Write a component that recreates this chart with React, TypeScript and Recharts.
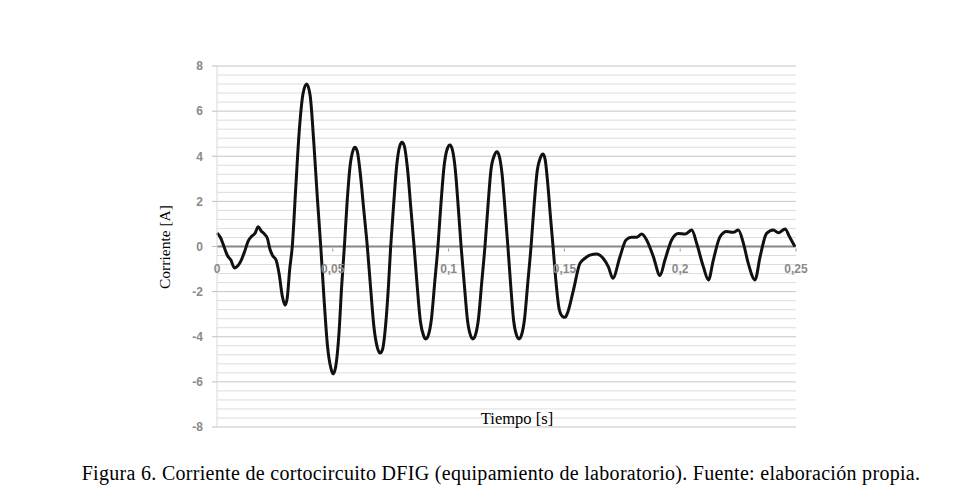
import { LineChart, Line, XAxis, YAxis, ReferenceLine } from 'recharts'

// tiempo [s] y corriente [A]
const TIME = [
  0.0, 0.0015, 0.003, 0.0045, 0.006, 0.0075, 0.009, 0.0105, 0.012, 0.0135,
  0.015, 0.0165, 0.0178, 0.019, 0.0205, 0.0218, 0.0228, 0.024, 0.0255, 0.0268,
  0.0282, 0.0294, 0.0303, 0.0314, 0.0325, 0.034, 0.0355, 0.0372, 0.0387, 0.0402,
  0.0418, 0.0433, 0.0448, 0.0462, 0.0477, 0.0492, 0.0502, 0.0513, 0.0527, 0.0538,
  0.055, 0.0562, 0.0575, 0.0587, 0.0596, 0.0606, 0.0618, 0.0634, 0.0649, 0.0663,
  0.0678, 0.0693, 0.0704, 0.0715, 0.0728, 0.074, 0.075, 0.0763, 0.0776, 0.0789,
  0.0799, 0.0809, 0.0822, 0.0837, 0.0851, 0.0864, 0.0878, 0.0892, 0.0902, 0.0912,
  0.0926, 0.094, 0.0954, 0.0967, 0.0981, 0.0995, 0.1006, 0.1016, 0.1029, 0.1042,
  0.1054, 0.1068, 0.1082, 0.1095, 0.1105, 0.1115, 0.1129, 0.1143, 0.1157, 0.117,
  0.1183, 0.1198, 0.1209, 0.1219, 0.1231, 0.1244, 0.1256, 0.1268, 0.1281, 0.1294,
  0.1304, 0.1314, 0.1328, 0.1342, 0.1356, 0.1369, 0.1382, 0.1397, 0.1408, 0.1417,
  0.1428, 0.144, 0.1451, 0.1463, 0.1478, 0.1492, 0.1503, 0.1515, 0.1539, 0.1567,
  0.1589, 0.161, 0.164, 0.1667, 0.169, 0.1709, 0.174, 0.1766, 0.179, 0.1812,
  0.1834, 0.1855, 0.1884, 0.1913, 0.1934, 0.1963, 0.1992, 0.2021, 0.205, 0.2071,
  0.21, 0.2122, 0.2143, 0.2172, 0.2201, 0.2229, 0.2251, 0.2273, 0.2294, 0.2323,
  0.2345, 0.2373, 0.2402, 0.2424, 0.2453, 0.2472, 0.2495,
]

const CURRENT = [
  0.6, 0.4, 0.0, -0.4, -0.6, -0.95, -0.85, -0.6, -0.2, 0.25,
  0.45, 0.6, 0.88, 0.7, 0.55, 0.35, -0.1, -0.4, -0.6, -1.2,
  -2.2, -2.6, -2.3, -1.0, 0.0, 2.6, 5.1, 6.8, 7.2, 6.7,
  4.6, 2.2, 0.0, -2.3, -4.4, -5.4, -5.65, -5.3, -3.8, -1.8,
  0.0, 2.0, 3.6, 4.25, 4.4, 4.2, 3.3, 1.6, 0.0, -1.8,
  -3.6, -4.5, -4.72, -4.55, -3.5, -1.8, 0.0, 1.9, 3.6, 4.45,
  4.62, 4.45, 3.5, 1.7, 0.0, -1.7, -3.3, -3.95, -4.1, -3.95,
  -3.2, -1.6, 0.0, 1.9, 3.6, 4.35, 4.5, 4.3, 3.4, 1.7,
  0.0, -1.7, -3.3, -3.95, -4.1, -3.95, -3.2, -1.6, 0.0, 1.8,
  3.4, 4.05, 4.2, 4.0, 3.2, 1.6, 0.0, -1.7, -3.3, -3.95,
  -4.1, -3.95, -3.2, -1.6, 0.0, 1.8, 3.3, 3.95, 4.1, 3.85,
  2.8, 1.3, 0.0, -1.5, -2.8, -3.1, -3.14, -2.9, -1.93, -0.75,
  -0.52, -0.38, -0.33, -0.52, -0.9, -1.41, -0.45, 0.29, 0.41, 0.41,
  0.55, 0.29, -0.45, -1.29, -0.6, 0.29, 0.58, 0.55, 0.73, 0.14,
  -0.9, -1.48, -0.6, 0.43, 0.66, 0.63, 0.73, 0.14, -0.75, -1.48,
  -0.45, 0.58, 0.73, 0.61, 0.78, 0.43, 0.0,
]

const X_TICKS = [0, 0.05, 0.1, 0.15, 0.2, 0.25]
const X_LABELS = ['0', '0,05', '0,1', '0,15', '0,2', '0,25']
const Y_TICKS = [-8, -6, -4, -2, 0, 2, 4, 6, 8]

const data = TIME.map((t, i) => ({ t, i: CURRENT[i] }))

// líneas de rejilla menores cada 0,4
const MINOR_GRID: number[] = []
for (let k = 0; k <= 40; k++) {
  const v = Math.round((-8 + k * 0.4) * 10) / 10
  if (!Y_TICKS.includes(v)) MINOR_GRID.push(v)
}

const TOP = 66
const PLOT_H = 361
const ZERO_Y = TOP + PLOT_H / 2
const SANS = "'Liberation Sans', Arial, sans-serif"
const SERIF = "'Liberation Serif', 'Times New Roman', serif"

const XTick = (props: any) => {
  const { x, index } = props
  return (
    <g>
      {index > 0 && <line x1={x} x2={x} y1={ZERO_Y + 2} y2={ZERO_Y + 5} stroke="#999" />}
      <text x={x} y={ZERO_Y + 26} textAnchor="middle" fontSize={12} fill="#8a8a8a"
        fontWeight={700} fontFamily={SANS}>
        {X_LABELS[index]}
      </text>
    </g>
  )
}

export default function App() {
  return (
    <div style={{ position: 'absolute', left: 0, top: 0, width: 961, height: 494, background: '#fff' }}>
      <LineChart width={961} height={494} data={data}
        margin={{ top: TOP, right: 165, left: 157, bottom: 37 }}>
        <XAxis dataKey="t" type="number" domain={[0, 0.25]} ticks={X_TICKS}
          axisLine={false} tickLine={false} tick={XTick} height={30} interval={0} />
        <YAxis type="number" domain={[-8, 8]} ticks={Y_TICKS} width={60} interval={0}
          axisLine={{ stroke: '#d9d9d9' }} tickLine={{ stroke: '#bfbfbf' }} tickSize={5} tickMargin={9}
          tick={{ fontSize: 12, fill: '#8a8a8a', fontWeight: 700, fontFamily: SANS }} />
        {MINOR_GRID.map((v) => (
          <ReferenceLine key={'m' + v} y={v} stroke="#dcdcdc" strokeWidth={1} />
        ))}
        {Y_TICKS.filter((v) => v !== 0).map((v) => (
          <ReferenceLine key={'M' + v} y={v} stroke="#c4c4c4" strokeWidth={1} />
        ))}
        <ReferenceLine y={0} stroke="#868686" strokeWidth={2} />
        <Line dataKey="i" type="monotone" stroke="#111" strokeWidth={3} dot={false}
          isAnimationActive={false} />
      </LineChart>
      <div style={{
        position: 'absolute', left: 165, top: 247, transform: 'translate(-50%, -50%) rotate(-90deg)',
        fontFamily: SERIF, fontSize: 15.5, whiteSpace: 'nowrap',
      }}>Corriente [A]</div>
      <div style={{
        position: 'absolute', left: 517, top: 419, transform: 'translate(-50%, -50%)',
        fontFamily: SERIF, fontSize: 16.5, whiteSpace: 'nowrap',
      }}>Tiempo [s]</div>
      <div style={{
        position: 'absolute', left: 501, top: 473, transform: 'translate(-50%, -50%)',
        fontFamily: SERIF, fontSize: 20, letterSpacing: 0.3, whiteSpace: 'nowrap',
      }}>Figura 6. Corriente de cortocircuito DFIG (equipamiento de laboratorio). Fuente: elaboración propia.</div>
    </div>
  )
}
